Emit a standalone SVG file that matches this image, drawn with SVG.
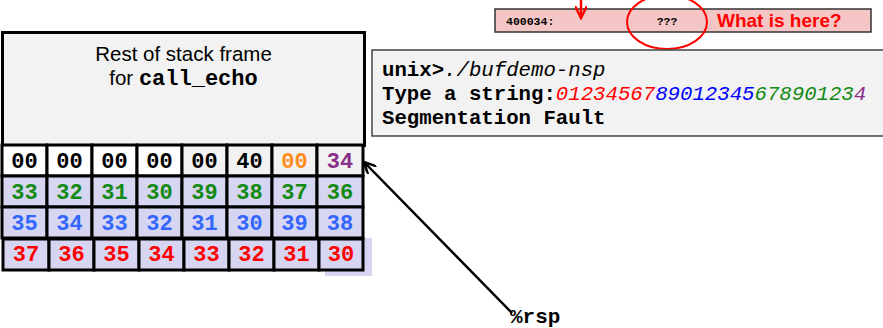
<svg xmlns="http://www.w3.org/2000/svg" width="883" height="328" viewBox="0 0 883 328">
<style>
.cell{stroke:#000;stroke-width:3}
.w{fill:#fff}.g{fill:#f2f2f2}.l{fill:#d6d6f2}
.b{font-family:"Liberation Mono","Courier New",monospace;font-weight:bold;font-size:22px;text-anchor:middle}
.term{font-family:"Liberation Mono","Courier New",monospace;font-size:20.7px}
.tb{font-weight:bold}
.it{font-style:italic}
.sans{font-family:"Liberation Sans",Arial,sans-serif}
.k{fill:#000}.gr{fill:#138a13}.bl{fill:#3366ff}.rd{fill:#ff0000}.or{fill:#ff8c1a}.pu{fill:#882f88}.bl2{fill:#0000ff}
</style>
<defs>
<marker id="ah" markerWidth="14" markerHeight="12" refX="12" refY="6" orient="auto" markerUnits="userSpaceOnUse">
<path d="M0,0 L12,6 L0,12" fill="none" stroke="#000" stroke-width="2.5"/>
</marker>
<marker id="ahr" markerWidth="14" markerHeight="12" refX="12" refY="6" orient="auto" markerUnits="userSpaceOnUse">
<path d="M0,0 L12,6 L0,12" fill="none" stroke="#ff0000" stroke-width="2.5"/>
</marker>
</defs>

<g id="memory-bar">
<rect x="495" y="9" width="376" height="23" fill="#f4c6c6" stroke="#333" stroke-width="1.5"/>
<text x="506" y="25" font-family="'Liberation Mono','Courier New',monospace" font-weight="bold" font-size="11.5">400034:</text>
<text x="667" y="25" font-family="'Liberation Mono','Courier New',monospace" font-weight="bold" font-size="11.5" text-anchor="middle">???</text>
<text x="717" y="27" class="sans" font-weight="bold" font-size="19" fill="#ff0000">What is here?</text>
<ellipse cx="667" cy="22" rx="40" ry="27" fill="none" stroke="#ff0000" stroke-width="2"/>
</g>

<g id="stack-frame">
<rect x="2.5" y="32.5" width="362" height="113" fill="#f2f2f2" stroke="#000" stroke-width="3"/>
<text x="183.5" y="61" class="sans" font-size="20.5" text-anchor="middle">Rest of stack frame</text>
<text x="183.5" y="85" font-size="20.5" text-anchor="middle"><tspan class="sans">for </tspan><tspan font-family="'Liberation Mono','Courier New',monospace" font-weight="bold" font-size="22">call_echo</tspan></text>
</g>

<g id="terminal">
<rect x="372" y="50" width="520" height="86" fill="#f2f2f2" stroke="#444" stroke-width="1.5"/>
<text x="382" y="76" class="term"><tspan class="tb">unix&gt;</tspan><tspan class="it">./bufdemo-nsp</tspan></text>
<text x="382" y="100" class="term"><tspan class="tb">Type a string:</tspan><tspan class="it rd">01234567</tspan><tspan class="it bl2">89012345</tspan><tspan class="it gr">67890123</tspan><tspan class="it pu">4</tspan></text>
<text x="382" y="124" class="term tb">Segmentation Fault</text>
</g>

<g id="stack-cells">
<rect x="325" y="238" width="47" height="38" fill="#d6d6f2"/>
<g id="row1">
<rect class="cell w" x="2" y="145" width="45" height="31"/>
<rect class="cell w" x="47" y="145" width="45" height="31"/>
<rect class="cell w" x="92" y="145" width="45" height="31"/>
<rect class="cell w" x="137" y="145" width="45" height="31"/>
<rect class="cell g" x="182" y="145" width="45" height="31"/>
<rect class="cell g" x="227" y="145" width="45" height="31"/>
<rect class="cell g" x="272" y="145" width="45" height="31"/>
<rect class="cell g" x="317" y="145" width="46" height="31"/>
<text class="b k" x="24.5" y="167.5">00</text>
<text class="b k" x="69.5" y="167.5">00</text>
<text class="b k" x="114.5" y="167.5">00</text>
<text class="b k" x="159.5" y="167.5">00</text>
<text class="b k" x="204.5" y="167.5">00</text>
<text class="b k" x="249.5" y="167.5">40</text>
<text class="b or" x="294.5" y="167.5">00</text>
<text class="b pu" x="340" y="167.5">34</text>
</g>
<g id="row2">
<rect class="cell l" x="2" y="176" width="45" height="31"/>
<rect class="cell l" x="47" y="176" width="45" height="31"/>
<rect class="cell l" x="92" y="176" width="45" height="31"/>
<rect class="cell l" x="137" y="176" width="45" height="31"/>
<rect class="cell l" x="182" y="176" width="45" height="31"/>
<rect class="cell l" x="227" y="176" width="45" height="31"/>
<rect class="cell l" x="272" y="176" width="45" height="31"/>
<rect class="cell l" x="317" y="176" width="46" height="31"/>
<text class="b gr" x="24.5" y="198.5">33</text>
<text class="b gr" x="69.5" y="198.5">32</text>
<text class="b gr" x="114.5" y="198.5">31</text>
<text class="b gr" x="159.5" y="198.5">30</text>
<text class="b gr" x="204.5" y="198.5">39</text>
<text class="b gr" x="249.5" y="198.5">38</text>
<text class="b gr" x="294.5" y="198.5">37</text>
<text class="b gr" x="340" y="198.5">36</text>
</g>
<g id="row3">
<rect class="cell l" x="2" y="207" width="45" height="31"/>
<rect class="cell l" x="47" y="207" width="45" height="31"/>
<rect class="cell l" x="92" y="207" width="45" height="31"/>
<rect class="cell l" x="137" y="207" width="45" height="31"/>
<rect class="cell l" x="182" y="207" width="45" height="31"/>
<rect class="cell l" x="227" y="207" width="45" height="31"/>
<rect class="cell l" x="272" y="207" width="45" height="31"/>
<rect class="cell l" x="317" y="207" width="46" height="31"/>
<text class="b bl" x="24.5" y="229.5">35</text>
<text class="b bl" x="69.5" y="229.5">34</text>
<text class="b bl" x="114.5" y="229.5">33</text>
<text class="b bl" x="159.5" y="229.5">32</text>
<text class="b bl" x="204.5" y="229.5">31</text>
<text class="b bl" x="249.5" y="229.5">30</text>
<text class="b bl" x="294.5" y="229.5">39</text>
<text class="b bl" x="340" y="229.5">38</text>
</g>
<g id="row4">
<rect class="cell l" x="3" y="239" width="46" height="31"/>
<rect class="cell l" x="49" y="239" width="45" height="31"/>
<rect class="cell l" x="94" y="239" width="45" height="31"/>
<rect class="cell l" x="139" y="239" width="45" height="31"/>
<rect class="cell l" x="184" y="239" width="45" height="31"/>
<rect class="cell l" x="229" y="239" width="45" height="31"/>
<rect class="cell l" x="274" y="239" width="45" height="31"/>
<rect class="cell l" x="319" y="239" width="44" height="31"/>
<text class="b rd" x="26" y="261">37</text>
<text class="b rd" x="71.5" y="261">36</text>
<text class="b rd" x="116.5" y="261">35</text>
<text class="b rd" x="161.5" y="261">34</text>
<text class="b rd" x="206.5" y="261">33</text>
<text class="b rd" x="251.5" y="261">32</text>
<text class="b rd" x="296.5" y="261">31</text>
<text class="b rd" x="341" y="261">30</text>
</g>
</g>

<g id="rsp-label">
<text x="510" y="323" font-family="'Liberation Mono','Courier New',monospace" font-weight="bold" font-size="21">%rsp</text>
</g>

<g id="connectors">
<line x1="512" y1="313" x2="364" y2="162" stroke="#000" stroke-width="2.5" marker-end="url(#ah)"/>
<line x1="581" y1="0" x2="581" y2="18" stroke="#ff0000" stroke-width="2.5" marker-end="url(#ahr)"/>
</g>
</svg>
